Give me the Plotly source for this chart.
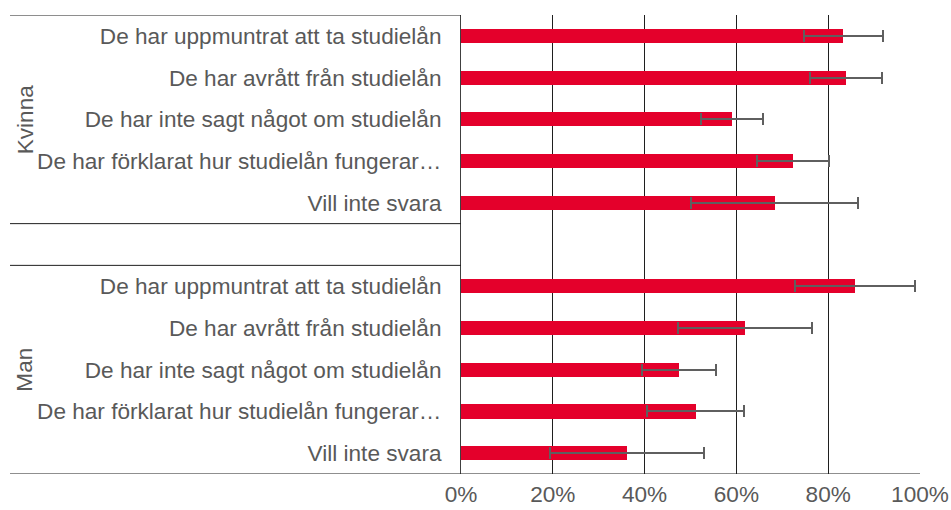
import plotly.graph_objects as go

# Survey answers, grouped by gender
groups = ["Kvinna", "Man"]
answers = [
    "De har uppmuntrat att ta studielån",
    "De har avrått från studielån",
    "De har inte sagt något om studielån",
    "De har förklarat hur studielån fungerar…",
    "Vill inte svara",
]
share_kvinna = [0.833, 0.839, 0.590, 0.723, 0.683]
err_kvinna = [0.086, 0.079, 0.068, 0.078, 0.183]
share_man = [0.858, 0.619, 0.475, 0.511, 0.362]
err_man = [0.131, 0.146, 0.081, 0.106, 0.168]
x_ticks = [0, 0.2, 0.4, 0.6, 0.8, 1.0]

RED = "#E4002B"
GREY = "#595959"
LINE = "#1f1f1f"
FS = 22.6

# Row positions: Kvinna rows, one empty row, then Man rows
n = len(answers)
pos_k = list(range(n))
pos_m = [n + 1 + i for i in range(n)]

fig = go.Figure()
for pos, vals, errs in [(pos_k, share_kvinna, err_kvinna), (pos_m, share_man, err_man)]:
    fig.add_trace(go.Bar(
        y=pos, x=vals, orientation="h", width=0.34,
        marker=dict(color=RED, line=dict(width=0)),
        error_x=dict(type="data", array=errs, symmetric=True,
                     color="#5f5f5f", thickness=2, width=6),
        showlegend=False, hoverinfo="x",
    ))

fig.update_layout(
    width=951, height=510,
    margin=dict(l=461, r=31, t=15, b=36, autoexpand=False),
    paper_bgcolor="white", plot_bgcolor="white",
    font=dict(family="Liberation Sans, Arial, sans-serif", size=FS, color=GREY),
    bargap=0,
    xaxis=dict(
        range=[0, 1], tickvals=x_ticks, tickformat=".0%",
        showgrid=True, gridcolor=LINE, gridwidth=1,
        zeroline=False, showline=False, ticks="",
        ticklabelstandoff=4,
        tickfont=dict(size=FS, color=GREY),
    ),
    yaxis=dict(
        range=[2 * n + 0.5, -0.5],
        tickvals=pos_k + pos_m, ticktext=answers + answers,
        showgrid=False, zeroline=False,
        showline=True, linecolor="#404040", linewidth=1,
        ticks="", ticklabelstandoff=14,
        tickfont=dict(size=FS, color=GREY),
    ),
)

# Horizontal dividers of the category axis
x_left = (10 - 461) / 459
for yv in [-0.5, n - 0.5, n + 0.5]:
    fig.add_shape(type="line", xref="paper", yref="y",
                  x0=x_left, x1=0, y0=yv, y1=yv,
                  line=dict(color=LINE, width=1))
fig.add_shape(type="line", xref="paper", yref="y",
              x0=x_left, x1=1, y0=2 * n + 0.5, y1=2 * n + 0.5,
              line=dict(color=LINE, width=1))

# Group labels, rotated
for g, pos in zip(groups, [pos_k, pos_m]):
    fig.add_annotation(
        text=g, xref="paper", yref="y",
        x=(25 - 461) / 459, y=(pos[0] + pos[-1]) / 2,
        textangle=-90, showarrow=False,
        font=dict(size=FS, color=GREY), xanchor="center", yanchor="middle",
    )

fig.write_html("out.html")
